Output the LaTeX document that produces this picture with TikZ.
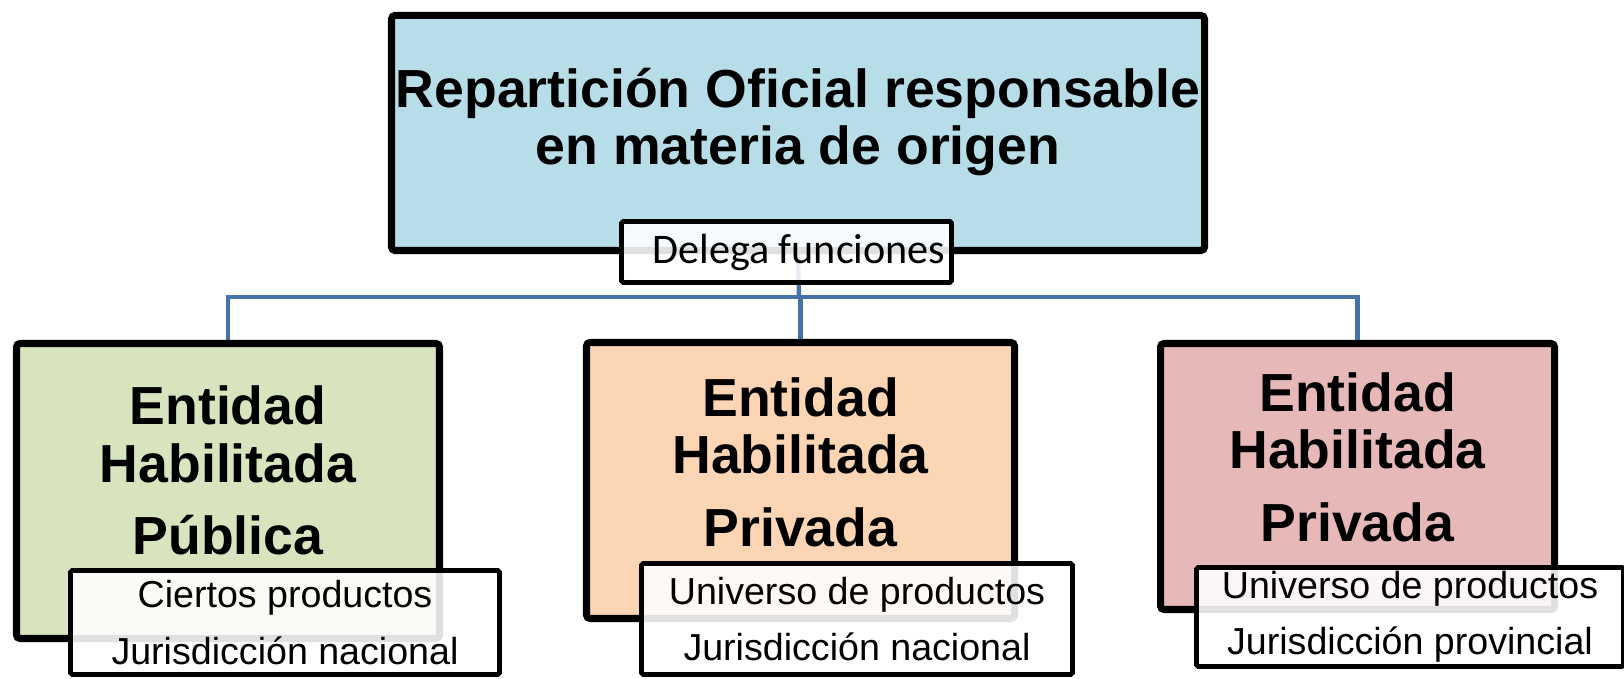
\documentclass[tikz,border=0pt]{standalone}
\usepackage{fontspec}
\setmainfont{Liberation Sans}
\newfontfamily\calibri{Carlito}
\usepackage{tikz}
\usepackage{xcolor}
\usetikzlibrary{backgrounds}
\definecolor{azul}{HTML}{B7DEE8}
\definecolor{verde}{HTML}{D7E4BD}
\definecolor{naranja}{HTML}{FCD5B5}
\definecolor{rosa}{HTML}{E6B9B8}
\definecolor{linea}{HTML}{4672AA}
\tikzstyle{entidad} = [rectangle, draw, line width=4pt, rounded corners=2pt, inner sep=2pt, align=center, font=\bfseries\fontsize{30.5}{32.5}\selectfont]
\tikzstyle{alcance} = [rectangle, draw, line width=2.8pt, rounded corners=1pt, fill=white, fill opacity=0.88, text opacity=1, inner sep=2pt, align=center, font=\fontsize{21.4}{32}\selectfont]
% texto del recuadro, algo mas arriba del centro
\newcommand{\subir}[2]{\raisebox{#1}[\height][\depth]{\begin{tabular}{@{}c@{}}#2\end{tabular}}}

\begin{document}
\begin{tikzpicture}
			\tikzset{conector/.style={draw=linea, line width=2.5pt}}
\useasboundingbox (0,0) rectangle (32.48,13.58);

\node[entidad, fill=azul, minimum width=16.26cm, minimum height=4.7cm] (rep) at (15.96,10.92) {\subir{0.17cm}{Repartición Oficial responsable\\en materia de origen}};
\node[entidad, fill=verde, minimum width=8.46cm, minimum height=5.9cm] (pub) at (4.56,3.76) {\subir{0.25cm}{Entidad\\Habilitada\\[9pt]Pública}};
\node[entidad, fill=naranja, minimum width=8.56cm, minimum height=5.52cm] (priv) at (16.01,3.97) {\subir{0.21cm}{Entidad\\Habilitada\\[9pt]Privada}};
\node[entidad, fill=rosa, minimum width=7.88cm, minimum height=5.32cm] (prov) at (27.15,4.05) {\subir{0.23cm}{Entidad\\Habilitada\\[9pt]Privada}};

\node[alcance, minimum width=6.6cm, minimum height=1.22cm, font=\calibri\fontsize{24}{26}\selectfont] (del) at (15.73,8.54) {\hspace*{0.5cm}Delega funciones};
\node[alcance, minimum width=8.58cm, minimum height=2.08cm] (pubsub) at (5.70,1.13) {Ciertos productos\\Jurisdicción nacional};
\node[alcance, minimum width=8.62cm, minimum height=2.22cm] (privsub) at (17.14,1.20) {Universo de productos\\Jurisdicción nacional};
\node[alcance, minimum width=8.54cm, minimum height=1.98cm] (provsub) at (28.20,1.24) {Universo de productos\\Jurisdicción provincial};

\coordinate (bus) at (15.98,7.64);
\begin{scope}[on background layer]
\draw[conector] (rep.south) -- (bus);
\foreach \hijo in {pub,priv,prov}
{
	\draw[conector] (bus) -| (\hijo.north);
}
\end{scope}

		\end{tikzpicture}
\end{document}
